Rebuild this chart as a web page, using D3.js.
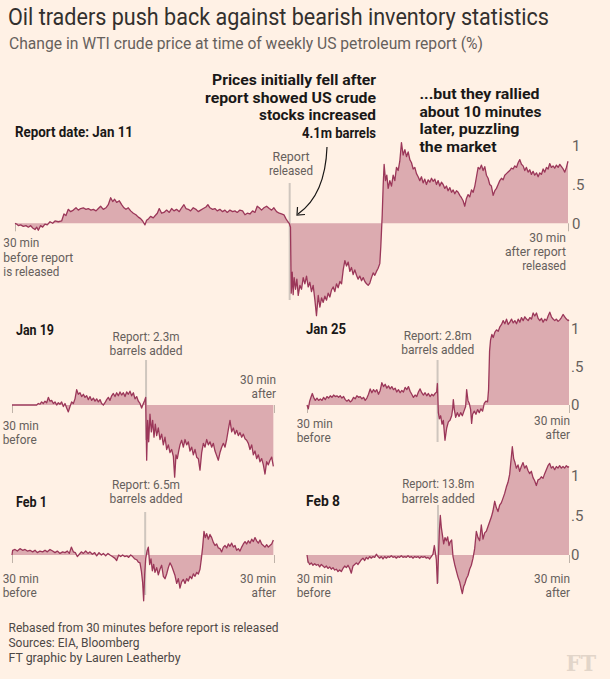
<!DOCTYPE html>
<html><head><meta charset="utf-8">
<script src="https://cdn.jsdelivr.net/npm/d3@7"></script>
<style>
body{margin:0;background:#fff1e5}
svg{display:block}
text{font-family:Roboto,"Open Sans",sans-serif}
</style>
</head><body>
<script>
// ---------- DATA (minutes from 30 min before report, % change) ----------
const jan11 = [[0,0],[0.18,-0.01],[0.36,-0.03],[0.61,-0.02],[0.9,-0.04],[1.19,-0.03],[1.45,-0.05],[1.7,-0.03],[1.92,-0.06],[2.17,-0.08],[2.35,-0.05],[2.53,-0.09],[2.78,-0.03],[3,-0.05],[3.25,-0.01],[3.5,-0.02],[3.8,0.02],[4.09,0],[4.34,0.03],[4.7,0.02],[5.06,0.03],[5.31,0.12],[5.53,0.1],[5.78,0.18],[6.04,0.15],[6.33,0.17],[6.62,0.2],[6.87,0.17],[7.12,0.19],[7.41,0.2],[7.7,0.18],[7.95,0.19],[8.24,0.17],[8.5,0.18],[8.79,0.16],[9.04,0.19],[9.29,0.22],[9.58,0.18],[9.87,0.2],[10.12,0.24],[10.38,0.33],[10.6,0.28],[10.81,0.31],[11.03,0.27],[11.32,0.29],[11.57,0.24],[11.82,0.2],[12.04,0.18],[12.29,0.2],[12.55,0.16],[12.84,0.13],[13.12,0.11],[13.38,0.08],[13.63,0.06],[13.85,0.03],[14.1,-0.02],[14.28,0.04],[14.5,0.06],[14.71,0.09],[15,0.07],[15.22,0.1],[15.44,0.13],[15.65,0.19],[15.91,0.13],[16.16,0.14],[16.45,0.17],[16.74,0.14],[16.99,0.19],[17.25,0.16],[17.53,0.18],[17.82,0.15],[18.08,0.2],[18.33,0.24],[18.55,0.19],[18.8,0.18],[19.05,0.16],[19.34,0.2],[19.63,0.18],[19.88,0.15],[20.14,0.17],[20.43,0.19],[20.72,0.21],[20.93,0.24],[21.15,0.2],[21.44,0.18],[21.69,0.19],[21.94,0.16],[22.23,0.18],[22.52,0.15],[22.78,0.17],[23.03,0.14],[23.32,0.17],[23.61,0.15],[23.86,0.16],[24.11,0.14],[24.4,0.17],[24.69,0.16],[24.95,0.11],[25.2,0.13],[25.49,0.12],[25.78,0.16],[26.03,0.14],[26.28,0.22],[26.5,0.2],[26.75,0.17],[27.01,0.2],[27.3,0.22],[27.59,0.19],[27.84,0.17],[28.09,0.2],[28.38,0.15],[28.67,0.13],[28.92,0.12],[29.18,0.11],[29.39,0.06],[29.61,0.02],[29.75,0],[29.89,-0.05],
[29.97,-0.9],[30.08,-0.63],[30.18,-0.92],[30.29,-0.7],[30.44,-0.85],[30.58,-0.72],[30.73,-0.93],[30.91,-0.8],[31.09,-0.85],[31.27,-0.7],[31.45,-0.78],[31.63,-0.68],[31.81,-0.82],[31.99,-0.76],[32.17,-0.88],[32.35,-0.8],[32.53,-0.98],[32.71,-1.19],[32.9,-0.93],[33.08,-1.08],[33.26,-0.96],[33.44,-1.02],[33.62,-0.94],[33.8,-0.99],[33.98,-0.9],[34.16,-0.95],[34.34,-0.86],[34.52,-0.82],[34.7,-0.88],[34.88,-0.78],[35.06,-0.83],[35.25,-0.75],[35.43,-0.78],[35.61,-0.6],[35.79,-0.48],[35.97,-0.55],[36.15,-0.5],[36.33,-0.62],[36.51,-0.57],[36.69,-0.66],[36.87,-0.6],[37.05,-0.67],[37.23,-0.72],[37.41,-0.68],[37.6,-0.74],[37.78,-0.7],[37.96,-0.75],[38.14,-0.78],[38.32,-0.8],[38.5,-0.77],[38.68,-0.7],[38.86,-0.64],[39.04,-0.67],[39.22,-0.62],[39.4,-0.58],[39.58,-0.52],[39.69,-0.3],[39.84,0.1],[39.95,0.5],[40.05,0.76],[40.2,0.55],[40.34,0.62],[40.49,0.45],[40.67,0.55],[40.85,0.48],[41.03,0.62],[41.21,0.55],[41.39,0.72],[41.57,0.68],[41.75,0.8],[41.93,1.04],[42.11,0.88],[42.3,0.95],[42.48,0.86],[42.66,0.92],[42.84,0.82],[43.02,0.78],[43.2,0.7],[43.38,0.72],[43.56,0.64],[43.74,0.6],[43.92,0.55],[44.1,0.6],[44.28,0.52],[44.46,0.57],[44.64,0.5],[44.83,0.56],[45.01,0.53],[45.19,0.58],[45.37,0.54],[45.55,0.57],[45.73,0.5],[45.91,0.55],[46.09,0.48],[46.27,0.53],[46.45,0.5],[46.63,0.45],[46.81,0.48],[46.99,0.42],[47.18,0.46],[47.36,0.4],[47.54,0.43],[47.72,0.38],[47.9,0.42],[48.08,0.4],[48.26,0.36],[48.44,0.33],[48.62,0.29],[48.8,0.22],[48.98,0.32],[49.16,0.37],[49.34,0.34],[49.53,0.43],[49.71,0.4],[49.89,0.48],[50.07,0.6],[50.25,0.72],[50.43,0.7],[50.61,0.75],[50.79,0.68],[50.97,0.73],[51.15,0.62],[51.33,0.58],[51.51,0.5],[51.69,0.48],[51.88,0.36],[52.06,0.42],[52.24,0.45],[52.42,0.5],[52.6,0.55],[52.78,0.58],[52.96,0.56],[53.14,0.62],[53.32,0.64],[53.5,0.66],[53.68,0.68],[53.86,0.71],[54.04,0.7],[54.23,0.74],[54.41,0.72],[54.59,0.78],[54.77,0.82],[54.95,0.76],[55.13,0.74],[55.31,0.68],[55.49,0.72],[55.67,0.66],[55.85,0.69],[56.03,0.63],[56.21,0.67],[56.39,0.62],[56.58,0.65],[56.76,0.6],[56.94,0.65],[57.12,0.63],[57.3,0.7],[57.48,0.66],[57.66,0.72],[57.84,0.7],[58.02,0.77],[58.2,0.72],[58.38,0.74],[58.56,0.71],[58.74,0.75],[58.93,0.72],[59.11,0.76],[59.29,0.73],[59.47,0.7],[59.65,0.66],[59.83,0.72],[60,0.8]];

const jan19 = [[0,0],[5.65,0],[6.03,0.02],[6.41,0.01],[6.79,0.04],[7.18,0.02],[7.56,0.05],[7.94,0.03],[8.32,0.1],[8.7,0.05],[9.08,0.06],[9.47,0.02],[9.85,0.04],[10.23,0],[10.61,0.03],[10.99,0.01],[11.37,0.04],[11.76,-0.02],[12.14,0.02],[12.52,-0.04],[12.9,-0.09],[13.28,-0.02],[13.66,0.04],[14.05,0.02],[14.43,0.08],[14.81,0.2],[15.19,0.14],[15.57,0.16],[15.95,0.11],[16.34,0.14],[16.72,0.1],[17.1,0.12],[17.48,0.07],[17.86,0.11],[18.24,0.06],[18.63,0.09],[19.01,0.05],[19.39,0.08],[19.77,0.04],[20.15,0.07],[20.53,0.02],[20.92,0],[21.3,0.03],[21.68,0.07],[22.06,0.1],[22.44,0.06],[22.82,0.12],[23.21,0.15],[23.59,0.11],[23.97,0.16],[24.35,0.12],[24.73,0.17],[25.11,0.13],[25.5,0.16],[25.88,0.11],[26.26,0.17],[26.64,0.14],[27.02,0.18],[27.4,0.12],[27.79,0.16],[28.17,0.08],[28.55,0.11],[28.93,0.05],[29.31,0.02],[29.69,-0.04],[30.08,0.02],[30.38,0.06],[30.61,0.1],
[30.84,-0.72],[31.07,-0.2],[31.3,-0.48],[31.6,-0.12],[31.91,-0.35],[32.21,-0.2],[32.52,-0.42],[32.82,-0.25],[33.13,-0.4],[33.51,-0.3],[33.89,-0.45],[34.27,-0.38],[34.66,-0.52],[35.04,-0.42],[35.42,-0.58],[35.8,-0.52],[36.18,-0.62],[36.56,-0.58],[36.95,-0.67],[37.25,-0.94],[37.56,-0.65],[37.86,-0.7],[38.17,-0.6],[38.47,-0.52],[38.85,-0.46],[39.24,-0.55],[39.62,-0.45],[40,-0.52],[40.38,-0.48],[40.76,-0.6],[41.15,-0.55],[41.53,-0.65],[41.91,-0.58],[42.29,-0.68],[42.67,-0.7],[43.05,-0.85],[43.44,-0.62],[43.82,-0.5],[44.2,-0.55],[44.58,-0.45],[44.96,-0.52],[45.34,-0.48],[45.73,-0.55],[46.11,-0.5],[46.49,-0.6],[46.87,-0.66],[47.25,-0.72],[47.63,-0.62],[48.02,-0.55],[48.4,-0.5],[48.78,-0.55],[49.16,-0.45],[49.54,-0.32],[49.92,-0.2],[50.31,-0.35],[50.69,-0.3],[51.07,-0.38],[51.45,-0.33],[51.83,-0.4],[52.21,-0.36],[52.6,-0.42],[52.98,-0.38],[53.36,-0.44],[53.74,-0.46],[54.12,-0.5],[54.5,-0.58],[54.89,-0.52],[55.27,-0.65],[55.65,-0.6],[56.03,-0.7],[56.41,-0.65],[56.79,-0.74],[57.18,-0.7],[57.56,-0.78],[57.94,-0.9],[58.32,-0.74],[58.7,-0.78],[59.08,-0.72],[59.47,-0.68],[59.85,-0.8]];

const jan25 = [[0,0],[0.3,-0.05],[0.61,0.05],[0.91,0.1],[1.22,0.15],[1.52,0.1],[1.9,0.06],[2.28,0.09],[2.67,0.06],[3.05,0.08],[3.43,0.06],[3.81,0.1],[4.19,0.07],[4.57,0.11],[4.95,0.09],[5.33,0.12],[5.71,0.1],[6.09,0.13],[6.47,0.11],[6.85,0.12],[7.24,0.1],[7.62,0.12],[8,0.09],[8.38,0.11],[8.76,0.07],[9.14,0.05],[9.52,0.07],[9.9,0.04],[10.28,0.06],[10.66,0.1],[11.04,0.08],[11.42,0.12],[11.81,0.1],[12.19,0.11],[12.57,0.08],[12.95,0.1],[13.33,0.06],[13.71,0.09],[14.09,0.14],[14.47,0.21],[14.85,0.16],[15.23,0.2],[15.61,0.17],[15.99,0.2],[16.37,0.14],[16.76,0.19],[17.14,0.29],[17.52,0.24],[17.9,0.27],[18.28,0.22],[18.66,0.25],[19.04,0.21],[19.42,0.24],[19.8,0.2],[20.18,0.22],[20.56,0.17],[20.94,0.2],[21.33,0.16],[21.71,0.19],[22.09,0.17],[22.47,0.23],[22.85,0.2],[23.23,0.24],[23.61,0.18],[23.99,0.14],[24.37,0.1],[24.75,0.13],[25.13,0.11],[25.51,0.17],[25.9,0.21],[26.28,0.16],[26.66,0.13],[27.04,0.16],[27.42,0.12],[27.8,0.15],[28.18,0.11],[28.56,0.14],[28.94,0.12],[29.32,0.15],[29.7,0.17],[29.86,0.28],
[30.08,-0.1],[30.31,-0.18],[30.61,-0.14],[30.92,-0.25],[31.22,-0.2],[31.6,-0.46],[31.99,-0.3],[32.37,-0.22],[32.75,-0.2],[33.13,-0.14],[33.36,-0.05],[33.51,0.07],[33.74,-0.06],[34.05,-0.16],[34.43,-0.1],[34.81,-0.15],[35.19,-0.1],[35.57,-0.14],[35.95,-0.08],[36.33,-0.02],[36.56,0.2],[36.86,0.06],[37.17,0.02],[37.47,-0.06],[37.7,-0.24],[37.93,-0.12],[38.31,-0.08],[38.69,-0.12],[39.07,-0.06],[39.45,-0.1],[39.83,-0.05],[40.21,-0.08],[40.59,0.02],[40.97,0.05],[41.35,0.04],[41.58,0.2],[41.81,0.7],[42.04,0.85],[42.34,0.92],[42.65,0.88],[43.03,0.95],[43.41,0.98],[43.79,0.96],[44.17,1.02],[44.55,1.05],[44.93,1.1],[45.31,1.06],[45.69,1.12],[46.07,1.05],[46.46,1.08],[46.84,1.12],[47.22,1.07],[47.6,1.1],[47.98,1.06],[48.36,1.12],[48.74,1.08],[49.12,1.14],[49.5,1.1],[49.89,1.15],[50.27,1.12],[50.65,1.1],[51.03,1.14],[51.41,1.12],[51.79,1.2],[52.17,1.16],[52.55,1.2],[52.93,1.13],[53.31,1.1],[53.69,1.13],[54.07,1.08],[54.45,1.12],[54.84,1.1],[55.22,1.16],[55.6,1.21],[55.98,1.15],[56.36,1.12],[56.74,1.1],[57.12,1.12],[57.5,1.09],[57.88,1.11],[58.26,1.14],[58.64,1.18],[59.02,1.15],[59.41,1.12],[59.79,1.1],[60,1.11]];

const feb1 = [[0,0],[0.15,0.06],[0.69,0.07],[1.22,0.05],[1.83,0.08],[2.44,0.06],[2.98,0.07],[3.51,0.05],[4.12,0.06],[4.73,0.04],[5.27,0.06],[5.8,0.03],[6.41,0.05],[7.02,0.04],[7.56,0.06],[8.09,0.04],[8.7,0.07],[9.31,0.05],[9.85,0.03],[10.38,0.05],[10.99,0.02],[11.6,0.04],[12.14,0.03],[12.67,0.05],[13.13,0.02],[13.59,0.1],[14.05,0.04],[14.5,0.03],[14.96,-0.02],[15.42,0.01],[15.88,0.04],[16.34,0.02],[16.87,0.05],[17.4,0.02],[17.86,0.04],[18.4,0.01],[18.93,0.03],[19.39,-0.01],[19.92,0.03],[20.46,0],[20.92,0.02],[21.45,-0.01],[21.98,0.02],[22.44,0],[22.98,-0.02],[23.51,-0.04],[23.97,-0.07],[24.43,0],[24.89,-0.02],[25.34,0],[25.8,-0.02],[26.26,-0.01],[26.72,-0.03],[27.18,0],[27.63,-0.02],[28.09,-0.05],[28.55,-0.06],[28.93,-0.09],[29.31,-0.1],[29.62,-0.2],[29.92,-0.35],[30.15,-0.58],[30.38,-0.25],[30.61,-0.05],[30.92,0.05],[31.22,0.1],[31.53,-0.12],[31.83,-0.05],[32.14,-0.2],[32.44,-0.12],[32.75,-0.22],[33.13,-0.16],[33.51,-0.25],[33.89,-0.18],[34.27,-0.13],[34.66,-0.27],[35.04,-0.3],[35.42,-0.24],[35.8,-0.16],[36.18,-0.1],[36.56,-0.14],[36.95,-0.2],[37.33,-0.26],[37.71,-0.36],[38.09,-0.3],[38.47,-0.42],[38.85,-0.34],[39.24,-0.31],[39.62,-0.36],[40,-0.3],[40.38,-0.33],[40.76,-0.27],[41.15,-0.3],[41.53,-0.24],[41.91,-0.27],[42.29,-0.22],[42.67,-0.24],[43.05,-0.18],[43.36,-0.05],[43.66,0.1],[43.97,0.3],[44.27,0.22],[44.58,0.27],[44.96,0.2],[45.34,0.26],[45.73,0.22],[46.11,0.16],[46.49,0.12],[46.87,0.14],[47.25,0.09],[47.63,0.08],[48.02,0.04],[48.4,0.1],[48.78,0.12],[49.16,0.09],[49.54,0.14],[49.92,0.11],[50.31,0.15],[50.69,0.1],[51.07,0.12],[51.45,0.06],[51.83,0.08],[52.21,0.05],[52.6,0.1],[52.98,0.14],[53.36,0.17],[53.74,0.14],[54.12,0.18],[54.5,0.15],[54.89,0.2],[55.27,0.17],[55.65,0.22],[56.03,0.18],[56.41,0.15],[56.79,0.19],[57.18,0.14],[57.56,0.12],[57.94,0.1],[58.32,0.13],[58.7,0.1],[59.08,0.12],[59.47,0.14],[59.85,0.19]];

const feb8 = [[0,0],[0.23,-0.08],[0.61,-0.12],[0.99,-0.1],[1.37,-0.13],[1.76,-0.11],[2.14,-0.13],[2.52,-0.12],[2.9,-0.15],[3.28,-0.12],[3.66,-0.14],[4.05,-0.16],[4.43,-0.14],[4.81,-0.17],[5.19,-0.15],[5.57,-0.18],[5.95,-0.16],[6.34,-0.19],[6.72,-0.18],[7.1,-0.21],[7.48,-0.19],[7.86,-0.21],[8.24,-0.17],[8.63,-0.14],[9.01,-0.16],[9.39,-0.13],[9.77,-0.17],[10.15,-0.23],[10.53,-0.14],[10.92,-0.12],[11.3,-0.1],[11.68,-0.12],[12.06,-0.09],[12.44,-0.06],[12.82,-0.04],[13.21,-0.07],[13.59,-0.03],[13.97,-0.05],[14.35,-0.02],[14.73,-0.04],[15.11,-0.02],[15.5,-0.03],[15.88,0.01],[16.26,-0.02],[16.64,-0.04],[17.02,-0.02],[17.4,-0.05],[17.79,-0.02],[18.17,-0.04],[18.55,-0.02],[18.93,-0.03],[19.31,-0.01],[19.69,-0.03],[20.08,-0.02],[20.46,-0.04],[20.84,-0.02],[21.22,-0.03],[21.6,-0.01],[21.98,-0.03],[22.37,-0.02],[22.75,-0.03],[23.13,-0.01],[23.51,-0.03],[23.89,-0.02],[24.27,-0.04],[24.66,-0.02],[25.04,-0.03],[25.42,-0.02],[25.8,-0.04],[26.18,-0.02],[26.56,-0.03],[26.95,-0.02],[27.33,-0.04],[27.71,-0.03],[28.09,-0.05],[28.47,-0.02],[28.85,0.01],[29.16,0.12],[29.39,0.03],[29.62,-0.06],[29.85,-0.36],[30.08,-0.05],[30.31,0.3],[30.53,0.5],[30.76,0.35],[30.99,0.26],[31.3,0.14],[31.6,0.22],[31.91,0.18],[32.21,0.23],[32.52,0.12],[32.82,0.17],[33.13,0.19],[33.44,-0.02],[33.82,-0.12],[34.2,-0.2],[34.58,-0.28],[34.96,-0.34],[35.27,-0.42],[35.57,-0.49],[35.88,-0.4],[36.18,-0.36],[36.49,-0.3],[36.87,-0.26],[37.25,-0.18],[37.63,-0.13],[38.02,-0.04],[38.4,0.08],[38.78,0.3],[39.16,0.22],[39.54,0.18],[39.92,0.38],[40.31,0.2],[40.69,0.28],[41.07,0.3],[41.45,0.36],[41.83,0.42],[42.21,0.48],[42.6,0.56],[42.98,0.68],[43.36,0.6],[43.74,0.55],[44.12,0.63],[44.5,0.66],[44.89,0.72],[45.27,0.78],[45.65,0.86],[46.03,0.92],[46.41,1.02],[46.72,1.2],[47.02,1.37],[47.33,1.22],[47.63,1.17],[47.94,1.1],[48.32,1.14],[48.7,1.06],[49.08,1.12],[49.47,1.17],[49.85,1.1],[50.23,1.13],[50.61,1.07],[50.99,1.03],[51.37,1.06],[51.76,0.98],[52.14,0.94],[52.52,0.88],[52.9,0.95],[53.28,0.96],[53.66,0.99],[54.05,0.97],[54.43,1.03],[54.81,1.08],[55.19,1.13],[55.57,1.16],[55.95,1.1],[56.34,1.12],[56.72,1.08],[57.1,1.12],[57.48,1.1],[57.86,1.13],[58.24,1.1],[58.63,1.12],[59.01,1.1],[59.39,1.13],[59.77,1.11],[60,1.12]];

const panelTitles = ["Report date: Jan 11", "Jan 19", "Jan 25", "Feb 1", "Feb 8"];
const reportMinutes = [29.8, 30.7, 29.9, 30.5, 30.0];
const reportNotes = [["Report", "released"], ["Report: 2.3m", "barrels added"], ["Report: 2.8m", "barrels added"], ["Report: 6.5m", "barrels added"], ["Report: 13.8m", "barrels added"]];
const yTickValues = [0, 0.5, 1];
const yTickLabels = ["0", ".5", "1"];
const xDomain = [0, 60];

// ---------- STYLE ----------
const BG = "#fff1e5", LINE = "#9b3759", FILL = "#dcabb0", GREY = "#66605c", DARK = "#1a1817";

const svg = d3.select("body").append("svg").attr("width", 610).attr("height", 679);
svg.append("rect").attr("width", 610).attr("height", 679).attr("fill", BG);

function label(x, y, s, o) {
  const t = svg.append("text").attr("y", y).text(s)
    .style("font-size", o.size + "px").style("font-weight", o.bold ? 700 : 400)
    .attr("fill", o.fill || GREY);
  if (o.w) {
    let sx = x;
    if (o.anchor === "end") sx = x - o.w; else if (o.anchor === "middle") sx = x - o.w / 2;
    t.attr("x", sx).attr("textLength", o.w).attr("lengthAdjust", "spacingAndGlyphs");
  } else t.attr("x", x).attr("text-anchor", o.anchor || "start");
  return t;
}

// ---------- LAYOUT ----------
const panels = [
  {data: jan11, x0: 15, x1: 568, zero: 223.3, unit: 77.6, rlTop: 183, rlBot: 300, tickX: 572},
  {data: jan19, x0: 12, x1: 274, zero: 405, unit: 76.7, rlTop: 360, rlBot: 440, tickX: null},
  {data: jan25, x0: 307, x1: 569, zero: 405, unit: 76.7, rlTop: 360, rlBot: 442, tickX: 571},
  {data: feb1, x0: 12, x1: 274, zero: 555, unit: 79, rlTop: 512, rlBot: 595, tickX: null},
  {data: feb8, x0: 307, x1: 569, zero: 555, unit: 79, rlTop: 505, rlBot: 583, tickX: 571}
];

panels.forEach((p, i) => {
  const x = d3.scaleLinear().domain(xDomain).range([p.x0, p.x1]);
  const y = d3.scaleLinear().domain([0, 1]).range([p.zero, p.zero - p.unit]);
  const g = svg.append("g");
  // report line
  g.append("line").attr("x1", x(reportMinutes[i])).attr("x2", x(reportMinutes[i]))
    .attr("y1", p.rlTop).attr("y2", p.rlBot).attr("stroke", "#cfc6be").attr("stroke-width", 2);
  // x-axis end ticks
  const xa = g.append("g").attr("transform", `translate(0,${p.zero})`)
    .call(d3.axisBottom(x).tickValues(xDomain).tickFormat("").tickSize(8).tickSizeOuter(0));
  xa.select(".domain").remove();
  xa.selectAll("line").attr("stroke", "#bfb3a9");
  // area + line
  g.append("path").datum(p.data)
    .attr("d", d3.area().x(d => x(d[0])).y0(y(0)).y1(d => y(d[1])))
    .attr("fill", FILL);
  g.append("path").datum(p.data)
    .attr("d", d3.line().x(d => x(d[0])).y(d => y(d[1])))
    .attr("fill", "none").attr("stroke", LINE).attr("stroke-width", 1.3).attr("stroke-linejoin", "round");
  // y-axis labels
  if (p.tickX !== null) {
    const ya = g.append("g").attr("transform", `translate(${p.tickX},0)`)
      .call(d3.axisRight(y).tickValues(yTickValues).tickFormat((d, k) => yTickLabels[k]).tickSize(0).tickPadding(0));
    ya.select(".domain").remove();
    ya.selectAll("text").attr("fill", GREY).style("font-size", "15px").style("font-family", "Roboto, sans-serif");
  }
});

// ---------- TEXT ----------
label(8, 25, "Oil traders push back against bearish inventory statistics", {size: 24, fill: "#33302e", w: 541});
label(9, 49, "Change in WTI crude price at time of weekly US petroleum report (%)", {size: 16, fill: GREY, w: 474});

// main annotations
const ann1 = ["Prices initially fell after", "report showed US crude", "stocks increased", "4.1m barrels"];
const ann1W = [164, 171, 117, 74];
ann1.forEach((s, k) => label(376, 85 + k * 17.6, s, {size: 15.5, bold: true, fill: DARK, anchor: "end", w: ann1W[k]}));
const ann2 = ["...but they rallied", "about 10 minutes", "later, puzzling", "the market"];
const ann2W = [120, 122, 100, 77];
ann2.forEach((s, k) => label(419.5, 99.3 + k * 17.5, s, {size: 15.5, bold: true, fill: DARK, w: ann2W[k]}));

// arrow
svg.append("path").attr("d", "M327,147 C326,175 318,200 298,214").attr("fill", "none").attr("stroke", DARK).attr("stroke-width", 1.2);
svg.append("path").attr("d", "M297.5,207 L297,215 L305,214.5").attr("fill", "none").attr("stroke", DARK).attr("stroke-width", 1.2);

// panel titles
const titlePos = [[15, 137, 118], [16, 335, 38], [306, 333.5, 40], [16, 506.7, 31], [306, 506, 34]];
panelTitles.forEach((s, i) => label(titlePos[i][0], titlePos[i][1], s, {size: 14.5, bold: true, fill: DARK, w: titlePos[i][2]}));

// report notes
const notePos = [[291, 160.7, 174.7, 37, 44], [146, 340.7, 355, 67, 73], [437.7, 340, 354.3, 68, 73], [146, 489, 503.3, 68, 73], [438.3, 488.3, 502.7, 72, 73]];
reportNotes.forEach((n, i) => {
  const p = notePos[i];
  label(p[0], p[1], n[0], {size: 13, anchor: "middle", w: p[3]});
  label(p[0], p[2], n[1], {size: 13, anchor: "middle", w: p[4]});
});

// start / end labels
label(3.3, 247.3, "30 min", {size: 13, w: 36});
label(3.3, 261.5, "before report", {size: 13, w: 70});
label(3.3, 275.5, "is released", {size: 13, w: 56});
label(566, 241.7, "30 min", {size: 13, anchor: "end", w: 36.7});
label(566, 255.8, "after report", {size: 13, anchor: "end", w: 61});
label(566, 269.6, "released", {size: 13, anchor: "end", w: 43.7});

const beforePos = [[2.7, 429.6, 443.7], [296.7, 428.3, 442.3], [2.7, 583.3, 597.3], [296.7, 582.7, 596.7]];
beforePos.forEach(p => { label(p[0], p[1], "30 min", {size: 13, w: 36}); label(p[0], p[2], "before", {size: 13, w: 34}); });
const afterPos = [[276, 383.5, 397.6], [570, 425, 439], [276, 583.3, 597.3], [570, 582.7, 596.7]];
afterPos.forEach(p => { label(p[0], p[1], "30 min", {size: 13, anchor: "end", w: 36}); label(p[0], p[2], "after", {size: 13, anchor: "end", w: 24.5}); });

// footer
label(8.5, 632, "Rebased from 30 minutes before report is released", {size: 12.5, fill: "#4d4845", w: 270});
label(8.5, 647, "Sources: EIA, Bloomberg", {size: 12.5, fill: "#4d4845", w: 131});
label(8.5, 662, "FT graphic by Lauren Leatherby", {size: 12.5, fill: "#4d4845", w: 172});
svg.append("text").attr("x", 566).attr("y", 671).text("FT")
  .style("font-family", "'DejaVu Serif', 'Liberation Serif', serif").style("font-size", "22px").style("font-weight", 700)
  .attr("fill", "#e2d5c9").attr("textLength", 30).attr("lengthAdjust", "spacingAndGlyphs");
</script>
</body></html>
